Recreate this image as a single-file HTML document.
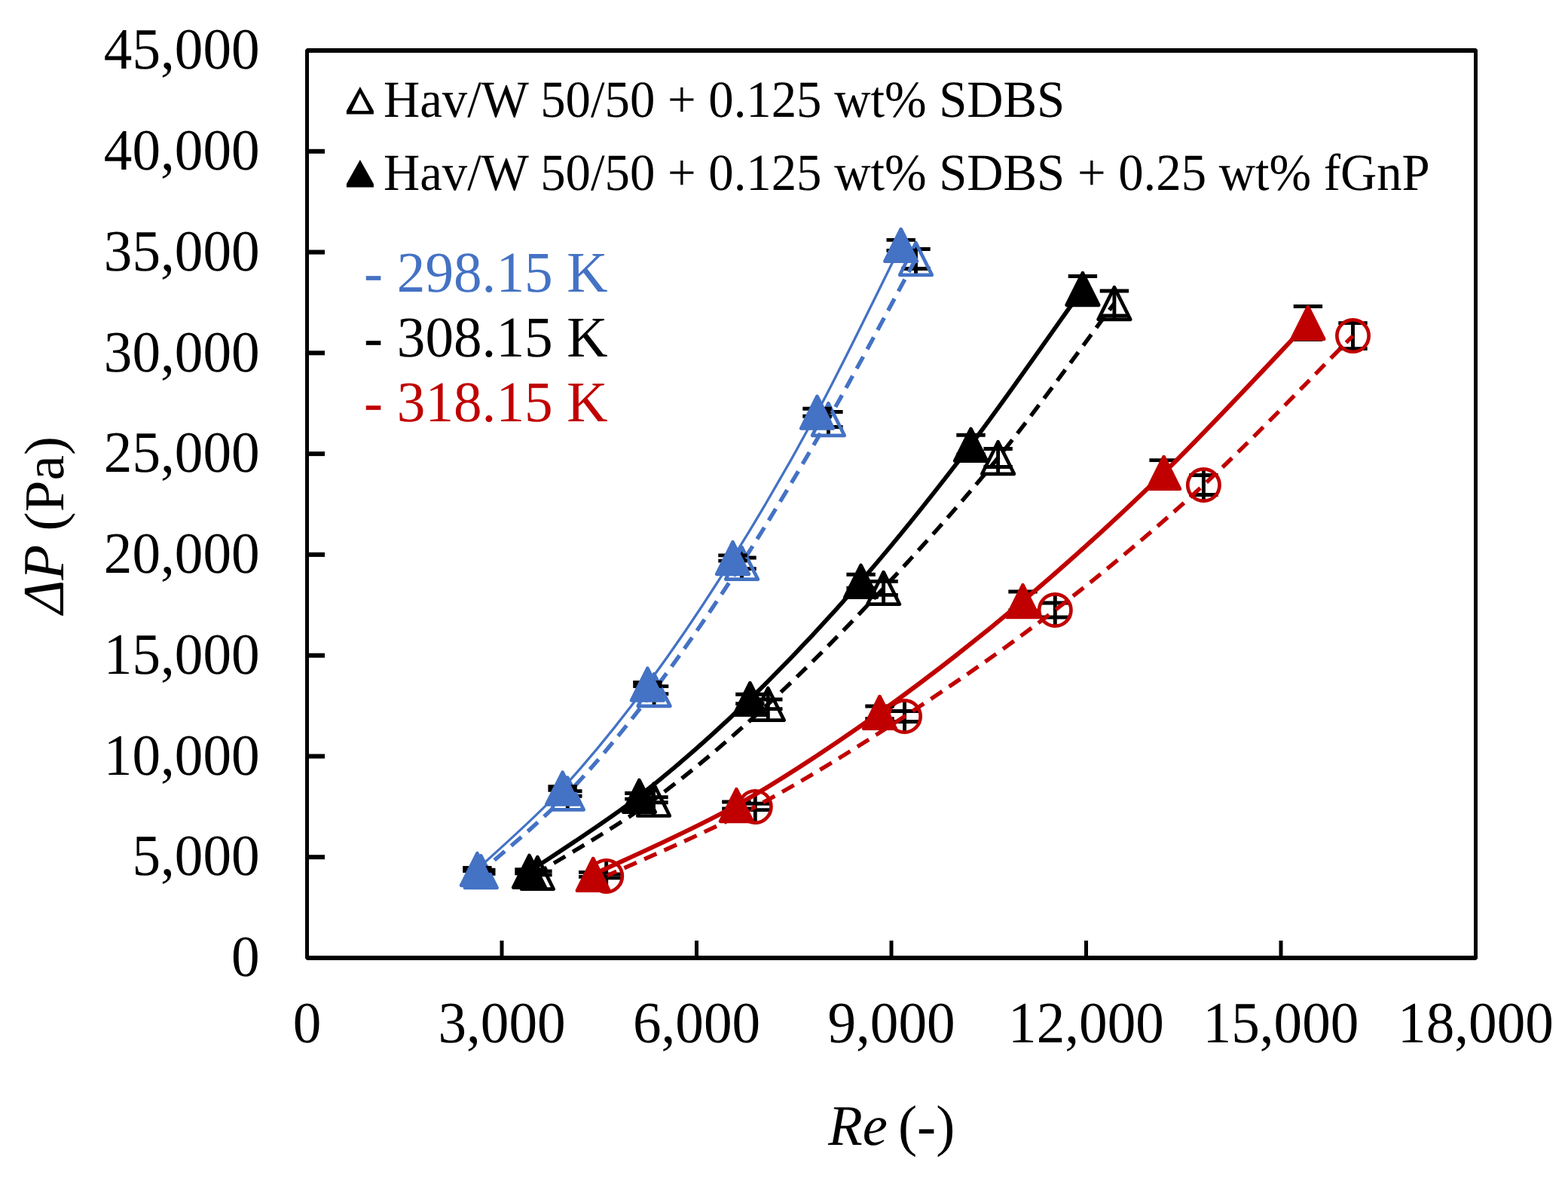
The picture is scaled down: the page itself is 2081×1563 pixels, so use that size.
<!DOCTYPE html>
<html><head><meta charset="utf-8"><title>Pressure drop vs Reynolds number</title>
<style>html,body{margin:0;padding:0;background:#fff;} svg{display:block;}</style>
</head><body>
<svg width="2081" height="1563" viewBox="0 0 2081 1563"><rect x="0" y="0" width="2081" height="1563" fill="#ffffff"/>
<path d="M638.30,1136.70V1176.70M619.10,1154.20H657.50M619.10,1159.20H657.50M753.30,1033.00V1073.00M734.10,1049.70H772.50M734.10,1056.30H772.50M868.10,895.60V935.60M848.90,910.60H887.30M848.90,920.60H887.30M984.50,727.30V767.30M965.30,740.00H1003.70M965.30,754.60H1003.70M1099.40,536.50V576.50M1080.20,546.50H1118.60M1080.20,566.50H1118.60M1215.50,323.50V363.50M1196.30,330.50H1234.70M1196.30,356.50H1234.70" stroke="#000" stroke-width="4.9" fill="none"/>
<path d="M638.30,1156.70 C657.47,1139.42 715.00,1093.18 753.30,1053.00 C791.60,1012.82 829.57,966.55 868.10,915.60 C906.63,864.65 945.95,807.15 984.50,747.30 C1023.05,687.45 1060.90,623.80 1099.40,556.50 C1137.90,489.20 1196.15,379.00 1215.50,343.50" stroke="#4472C4" stroke-width="5.4" fill="none" stroke-dasharray="18 11.1" stroke-dashoffset="5.2"/>
<polygon points="638.30,1135.40 659.60,1178.00 617.00,1178.00" fill="none" stroke="#4472C4" stroke-width="4.7" stroke-linejoin="round"/><polygon points="753.30,1031.70 774.60,1074.30 732.00,1074.30" fill="none" stroke="#4472C4" stroke-width="4.7" stroke-linejoin="round"/><polygon points="868.10,894.30 889.40,936.90 846.80,936.90" fill="none" stroke="#4472C4" stroke-width="4.7" stroke-linejoin="round"/><polygon points="984.50,726.00 1005.80,768.60 963.20,768.60" fill="none" stroke="#4472C4" stroke-width="4.7" stroke-linejoin="round"/><polygon points="1099.40,535.20 1120.70,577.80 1078.10,577.80" fill="none" stroke="#4472C4" stroke-width="4.7" stroke-linejoin="round"/><polygon points="1215.50,322.20 1236.80,364.80 1194.20,364.80" fill="none" stroke="#4472C4" stroke-width="4.7" stroke-linejoin="round"/>
<path d="M633.40,1151.50V1155.50M614.20,1151.50H652.60M614.20,1155.50H652.60M746.60,1043.70V1048.30M727.40,1043.70H765.80M727.40,1048.30H765.80M859.40,905.50V910.50M840.20,905.50H878.60M840.20,910.50H878.60M972.50,736.90V744.10M953.30,736.90H991.70M953.30,744.10H991.70M1084.50,542.20V552.20M1065.30,542.20H1103.70M1065.30,552.20H1103.70M1195.70,318.40V332.40M1176.50,318.40H1214.90M1176.50,332.40H1214.90" stroke="#000" stroke-width="4.9" fill="none"/>
<path d="M633.40,1153.50 C652.27,1135.58 708.93,1086.92 746.60,1046.00 C784.27,1005.08 821.75,958.92 859.40,908.00 C897.05,857.08 934.98,800.63 972.50,740.50 C1010.02,680.37 1047.30,616.38 1084.50,547.20 C1121.70,478.02 1177.17,362.37 1195.70,325.40" stroke="#4472C4" stroke-width="3.3" fill="none"/>
<polygon points="633.40,1132.20 654.70,1174.80 612.10,1174.80" fill="#4472C4" stroke="#4472C4" stroke-width="4.7" stroke-linejoin="round"/><polygon points="746.60,1024.70 767.90,1067.30 725.30,1067.30" fill="#4472C4" stroke="#4472C4" stroke-width="4.7" stroke-linejoin="round"/><polygon points="859.40,886.70 880.70,929.30 838.10,929.30" fill="#4472C4" stroke="#4472C4" stroke-width="4.7" stroke-linejoin="round"/><polygon points="972.50,719.20 993.80,761.80 951.20,761.80" fill="#4472C4" stroke="#4472C4" stroke-width="4.7" stroke-linejoin="round"/><polygon points="1084.50,525.90 1105.80,568.50 1063.20,568.50" fill="#4472C4" stroke="#4472C4" stroke-width="4.7" stroke-linejoin="round"/><polygon points="1195.70,304.10 1217.00,346.70 1174.40,346.70" fill="#4472C4" stroke="#4472C4" stroke-width="4.7" stroke-linejoin="round"/>
<path d="M713.40,1138.40V1178.40M694.20,1155.90H732.60M694.20,1160.90H732.60M867.50,1041.20V1081.20M848.30,1057.70H886.70M848.30,1064.70H886.70M1019.30,914.30V954.30M1000.10,928.00H1038.50M1000.10,940.60H1038.50M1172.60,760.40V800.40M1153.40,771.40H1191.80M1153.40,789.40H1191.80M1324.60,587.50V627.50M1305.40,595.50H1343.80M1305.40,619.50H1343.80M1478.90,382.50V422.50M1459.70,386.00H1498.10M1459.70,419.00H1498.10" stroke="#000" stroke-width="4.9" fill="none"/>
<path d="M713.40,1158.40 C739.08,1142.20 816.52,1098.55 867.50,1061.20 C918.48,1023.85 968.45,981.10 1019.30,934.30 C1070.15,887.50 1121.72,834.87 1172.60,780.40 C1223.48,725.93 1273.55,670.48 1324.60,607.50 C1375.65,544.52 1453.18,436.67 1478.90,402.50" stroke="#000000" stroke-width="5.4" fill="none" stroke-dasharray="18 11.1" stroke-dashoffset="3.7"/>
<polygon points="713.40,1137.10 734.70,1179.70 692.10,1179.70" fill="none" stroke="#000000" stroke-width="4.7" stroke-linejoin="round"/><polygon points="867.50,1039.90 888.80,1082.50 846.20,1082.50" fill="none" stroke="#000000" stroke-width="4.7" stroke-linejoin="round"/><polygon points="1019.30,913.00 1040.60,955.60 998.00,955.60" fill="none" stroke="#000000" stroke-width="4.7" stroke-linejoin="round"/><polygon points="1172.60,759.10 1193.90,801.70 1151.30,801.70" fill="none" stroke="#000000" stroke-width="4.7" stroke-linejoin="round"/><polygon points="1324.60,586.20 1345.90,628.80 1303.30,628.80" fill="none" stroke="#000000" stroke-width="4.7" stroke-linejoin="round"/><polygon points="1478.90,381.20 1500.20,423.80 1457.60,423.80" fill="none" stroke="#000000" stroke-width="4.7" stroke-linejoin="round"/>
<path d="M702.50,1153.80V1158.80M683.30,1153.80H721.70M683.30,1158.80H721.70M848.40,1052.50V1060.10M829.20,1052.50H867.60M829.20,1060.10H867.60M995.40,921.20V933.60M976.20,921.20H1014.60M976.20,933.60H1014.60M1142.60,762.30V780.30M1123.40,762.30H1161.80M1123.40,780.30H1161.80M1288.50,577.30V603.30M1269.30,577.30H1307.70M1269.30,603.30H1307.70M1436.90,366.50V400.50M1417.70,366.50H1456.10M1417.70,400.50H1456.10" stroke="#000" stroke-width="4.9" fill="none"/>
<path d="M702.50,1156.30 C726.82,1139.63 799.58,1094.45 848.40,1056.30 C897.22,1018.15 946.37,974.90 995.40,927.40 C1044.43,879.90 1093.75,827.48 1142.60,771.30 C1191.45,715.12 1239.45,654.93 1288.50,590.30 C1337.55,525.67 1412.17,417.97 1436.90,383.50" stroke="#000000" stroke-width="5.7" fill="none"/>
<polygon points="702.50,1135.00 723.80,1177.60 681.20,1177.60" fill="#000000" stroke="#000000" stroke-width="4.7" stroke-linejoin="round"/><polygon points="848.40,1035.00 869.70,1077.60 827.10,1077.60" fill="#000000" stroke="#000000" stroke-width="4.7" stroke-linejoin="round"/><polygon points="995.40,906.10 1016.70,948.70 974.10,948.70" fill="#000000" stroke="#000000" stroke-width="4.7" stroke-linejoin="round"/><polygon points="1142.60,750.00 1163.90,792.60 1121.30,792.60" fill="#000000" stroke="#000000" stroke-width="4.7" stroke-linejoin="round"/><polygon points="1288.50,569.00 1309.80,611.60 1267.20,611.60" fill="#000000" stroke="#000000" stroke-width="4.7" stroke-linejoin="round"/><polygon points="1436.90,362.20 1458.20,404.80 1415.60,404.80" fill="#000000" stroke="#000000" stroke-width="4.7" stroke-linejoin="round"/>
<path d="M804.70,1142.40V1182.40M785.50,1159.90H823.90M785.50,1164.90H823.90M1002.30,1050.40V1090.40M983.10,1066.20H1021.50M983.10,1074.60H1021.50M1200.50,930.50V970.50M1181.30,943.50H1219.70M1181.30,957.50H1219.70M1400.30,789.50V829.50M1381.10,800.00H1419.50M1381.10,819.00H1419.50M1597.40,623.50V663.50M1578.20,630.50H1616.60M1578.20,656.50H1616.60M1795.50,425.60V465.60M1776.30,428.60H1814.70M1776.30,462.60H1814.70" stroke="#000" stroke-width="4.9" fill="none"/>
<path d="M804.70,1162.40 C837.63,1147.07 936.33,1105.72 1002.30,1070.40 C1068.27,1035.08 1134.17,993.98 1200.50,950.50 C1266.83,907.02 1334.15,860.67 1400.30,809.50 C1466.45,758.33 1531.53,704.15 1597.40,643.50 C1663.27,582.85 1762.48,478.58 1795.50,445.60" stroke="#C00000" stroke-width="5.4" fill="none" stroke-dasharray="18 11.1" stroke-dashoffset="3.0"/>
<circle cx="804.70" cy="1162.40" r="21.15" fill="none" stroke="#C00000" stroke-width="4.7"/><circle cx="1002.30" cy="1070.40" r="21.15" fill="none" stroke="#C00000" stroke-width="4.7"/><circle cx="1200.50" cy="950.50" r="21.15" fill="none" stroke="#C00000" stroke-width="4.7"/><circle cx="1400.30" cy="809.50" r="21.15" fill="none" stroke="#C00000" stroke-width="4.7"/><circle cx="1597.40" cy="643.50" r="21.15" fill="none" stroke="#C00000" stroke-width="4.7"/><circle cx="1795.50" cy="445.60" r="21.15" fill="none" stroke="#C00000" stroke-width="4.7"/>
<path d="M787.20,1157.40V1163.40M768.00,1157.40H806.40M768.00,1163.40H806.40M977.40,1064.00V1073.00M958.20,1064.00H996.60M958.20,1073.00H996.60M1167.50,937.00V953.80M1148.30,937.00H1186.70M1148.30,953.80H1186.70M1357.50,785.00V810.00M1338.30,785.00H1376.70M1338.30,810.00H1376.70M1544.60,610.60V644.20M1525.40,610.60H1563.80M1525.40,644.20H1563.80M1735.90,406.50V450.50M1716.70,406.50H1755.10M1716.70,450.50H1755.10" stroke="#000" stroke-width="4.9" fill="none"/>
<path d="M787.20,1160.40 C818.90,1145.08 914.02,1104.33 977.40,1068.50 C1040.78,1032.67 1104.15,990.57 1167.50,945.40 C1230.85,900.23 1294.65,850.50 1357.50,797.50 C1420.35,744.50 1481.53,688.90 1544.60,627.40 C1607.67,565.90 1704.02,461.65 1735.90,428.50" stroke="#C00000" stroke-width="6.0" fill="none"/>
<polygon points="787.20,1139.10 808.50,1181.70 765.90,1181.70" fill="#C00000" stroke="#C00000" stroke-width="4.7" stroke-linejoin="round"/><polygon points="977.40,1047.20 998.70,1089.80 956.10,1089.80" fill="#C00000" stroke="#C00000" stroke-width="4.7" stroke-linejoin="round"/><polygon points="1167.50,924.10 1188.80,966.70 1146.20,966.70" fill="#C00000" stroke="#C00000" stroke-width="4.7" stroke-linejoin="round"/><polygon points="1357.50,776.20 1378.80,818.80 1336.20,818.80" fill="#C00000" stroke="#C00000" stroke-width="4.7" stroke-linejoin="round"/><polygon points="1544.60,606.10 1565.90,648.70 1523.30,648.70" fill="#C00000" stroke="#C00000" stroke-width="4.7" stroke-linejoin="round"/><polygon points="1735.90,407.20 1757.20,449.80 1714.60,449.80" fill="#C00000" stroke="#C00000" stroke-width="4.7" stroke-linejoin="round"/>
<rect x="405" y="64" width="1556" height="6" fill="#000"/>
<rect x="405" y="1268" width="1556" height="6" fill="#000"/>
<rect x="405" y="64" width="5" height="1210" fill="#000"/>
<rect x="1956" y="64" width="5" height="1210" fill="#000"/>
<path d="M405,64 L407.4,64 L405,66.6 Z M1961,64 L1958.8,64 L1961,66 Z M1961,1274 L1958.7,1274 L1961,1272 Z M405,1274 L407.4,1274 L405,1271.6 Z" fill="#fff"/>
<rect x="410" y="1134.22" width="21" height="6" fill="#000"/>
<rect x="410" y="1000.44" width="21" height="6" fill="#000"/>
<rect x="410" y="866.67" width="21" height="6" fill="#000"/>
<rect x="410" y="732.89" width="21" height="6" fill="#000"/>
<rect x="410" y="599.11" width="21" height="6" fill="#000"/>
<rect x="410" y="465.33" width="21" height="6" fill="#000"/>
<rect x="410" y="331.56" width="21" height="6" fill="#000"/>
<rect x="410" y="197.78" width="21" height="6" fill="#000"/>
<rect x="663.50" y="1248" width="5" height="20" fill="#000"/>
<rect x="922.00" y="1248" width="5" height="20" fill="#000"/>
<rect x="1180.50" y="1248" width="5" height="20" fill="#000"/>
<rect x="1439.00" y="1248" width="5" height="20" fill="#000"/>
<rect x="1697.50" y="1248" width="5" height="20" fill="#000"/>
<text transform="translate(344.6,1295.00) scale(0.752,0.776)" text-anchor="end" font-family="Liberation Serif, Times New Roman, serif" font-size="100" text-rendering="geometricPrecision">0</text>
<text transform="translate(344.6,1161.00) scale(0.752,0.776)" text-anchor="end" font-family="Liberation Serif, Times New Roman, serif" font-size="100" text-rendering="geometricPrecision">5,000</text>
<text transform="translate(344.6,1028.00) scale(0.752,0.776)" text-anchor="end" font-family="Liberation Serif, Times New Roman, serif" font-size="100" text-rendering="geometricPrecision">10,000</text>
<text transform="translate(344.6,894.00) scale(0.752,0.776)" text-anchor="end" font-family="Liberation Serif, Times New Roman, serif" font-size="100" text-rendering="geometricPrecision">15,000</text>
<text transform="translate(344.6,760.00) scale(0.752,0.776)" text-anchor="end" font-family="Liberation Serif, Times New Roman, serif" font-size="100" text-rendering="geometricPrecision">20,000</text>
<text transform="translate(344.6,626.00) scale(0.752,0.776)" text-anchor="end" font-family="Liberation Serif, Times New Roman, serif" font-size="100" text-rendering="geometricPrecision">25,000</text>
<text transform="translate(344.6,493.00) scale(0.752,0.776)" text-anchor="end" font-family="Liberation Serif, Times New Roman, serif" font-size="100" text-rendering="geometricPrecision">30,000</text>
<text transform="translate(344.6,359.00) scale(0.752,0.776)" text-anchor="end" font-family="Liberation Serif, Times New Roman, serif" font-size="100" text-rendering="geometricPrecision">35,000</text>
<text transform="translate(344.6,225.00) scale(0.752,0.776)" text-anchor="end" font-family="Liberation Serif, Times New Roman, serif" font-size="100" text-rendering="geometricPrecision">40,000</text>
<text transform="translate(344.6,91.00) scale(0.752,0.776)" text-anchor="end" font-family="Liberation Serif, Times New Roman, serif" font-size="100" text-rendering="geometricPrecision">45,000</text>
<text transform="translate(407.50,1383) scale(0.752,0.776)" text-anchor="middle" font-family="Liberation Serif, Times New Roman, serif" font-size="100" text-rendering="geometricPrecision">0</text>
<text transform="translate(666.00,1383) scale(0.752,0.776)" text-anchor="middle" font-family="Liberation Serif, Times New Roman, serif" font-size="100" text-rendering="geometricPrecision">3,000</text>
<text transform="translate(924.50,1383) scale(0.752,0.776)" text-anchor="middle" font-family="Liberation Serif, Times New Roman, serif" font-size="100" text-rendering="geometricPrecision">6,000</text>
<text transform="translate(1183.00,1383) scale(0.752,0.776)" text-anchor="middle" font-family="Liberation Serif, Times New Roman, serif" font-size="100" text-rendering="geometricPrecision">9,000</text>
<text transform="translate(1441.50,1383) scale(0.752,0.776)" text-anchor="middle" font-family="Liberation Serif, Times New Roman, serif" font-size="100" text-rendering="geometricPrecision">12,000</text>
<text transform="translate(1700.00,1383) scale(0.752,0.776)" text-anchor="middle" font-family="Liberation Serif, Times New Roman, serif" font-size="100" text-rendering="geometricPrecision">15,000</text>
<text transform="translate(1958.50,1383) scale(0.752,0.776)" text-anchor="middle" font-family="Liberation Serif, Times New Roman, serif" font-size="100" text-rendering="geometricPrecision">18,000</text>
<text transform="translate(509,155) scale(0.6675,0.6895)" font-family="Liberation Serif, Times New Roman, serif" font-size="100" text-rendering="geometricPrecision">Hav/W 50/50 + 0.125 wt% SDBS</text>
<text transform="translate(509,252) scale(0.6675,0.6895)" font-family="Liberation Serif, Times New Roman, serif" font-size="100" text-rendering="geometricPrecision">Hav/W 50/50 + 0.125 wt% SDBS + 0.25 wt% fGnP</text>
<path d="M477.9,114.9 L495.9,147.10000000000002 L495.9,151.60000000000002 L459.9,151.60000000000002 L459.9,147.10000000000002 Z M477.9,123.80000000000001 L466.8,147.0 L490.0,147.0 Z" fill="#000" fill-rule="evenodd"/>
<path d="M477.9,211.9 L495.9,244.10000000000002 L495.9,248.60000000000002 L459.9,248.60000000000002 L459.9,244.10000000000002 Z" fill="#000"/>
<text transform="translate(483,387) scale(0.7518,0.7636)" fill="#4472C4" font-family="Liberation Serif, Times New Roman, serif" font-size="100" text-rendering="geometricPrecision">- 298.15 K</text>
<text transform="translate(483,473) scale(0.7518,0.7636)" fill="#000000" font-family="Liberation Serif, Times New Roman, serif" font-size="100" text-rendering="geometricPrecision">- 308.15 K</text>
<text transform="translate(483,559) scale(0.7518,0.7636)" fill="#C00000" font-family="Liberation Serif, Times New Roman, serif" font-size="100" text-rendering="geometricPrecision">- 318.15 K</text>
<text transform="translate(1099.2,1518.7) scale(0.745,0.76)" font-style="italic" font-family="Liberation Serif, Times New Roman, serif" font-size="100" text-rendering="geometricPrecision">Re</text>
<text transform="translate(1191.98,1519) scale(0.755,0.758)" font-family="Liberation Serif, Times New Roman, serif" font-size="100" text-rendering="geometricPrecision">(-)</text>
<text transform="translate(84.1,814.5) rotate(-90) scale(0.766,0.774)" font-style="italic" font-family="Liberation Serif, Times New Roman, serif" font-size="100" text-rendering="geometricPrecision">ΔP</text>
<text transform="translate(83.7,704.4) rotate(-90) scale(0.753,0.747)" font-family="Liberation Serif, Times New Roman, serif" font-size="100" text-rendering="geometricPrecision">(Pa)</text></svg>
</body></html>
